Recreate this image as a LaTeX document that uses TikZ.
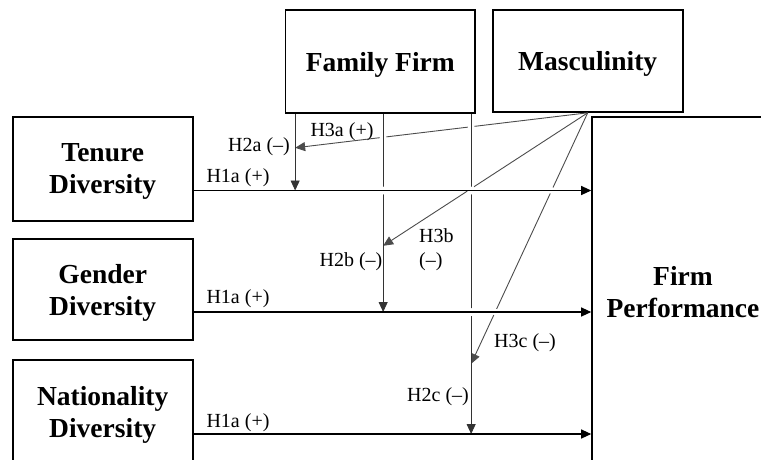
\documentclass[tikz,border=0pt]{standalone}
\usepackage{fontspec}
\setmainfont{Liberation Serif}
\usetikzlibrary{arrows.meta,calc}
\begin{document}
\begin{tikzpicture}[x=1pt,y=-1pt,
  box/.style={draw, line width=1.6pt, align=center, inner sep=0pt, text depth=0pt,
    font=\fontsize{27.5}{32}\selectfont\bfseries},
  lab/.style={font=\fontsize{20}{24}\selectfont, inner sep=0pt},
  tip/.style={-{Triangle[length=10pt,width=9pt]}},
  harr/.style={tip, line width=1.1pt, draw=black},
  varr/.style={tip, line width=0.9pt, draw=black!80, fill=black},
  darr/.style={tip, line width=0.9pt, draw=black!70},
  gap/.style={fill=white}
]
\useasboundingbox (0,0) rectangle (761,459);
\clip (0,0) rectangle (761,459);

% boxes
\node[box, minimum width=180pt, minimum height=104pt] (ten) at (102.7,168.7) {Tenure\\Diversity};
\node[box, minimum width=180pt, minimum height=101pt] (gen) at (102.7,289.7) {Gender\\Diversity};
\node[box, minimum width=180pt, minimum height=104pt] (nat) at (102.7,412) {Nationality\\Diversity};
\node[box, minimum width=189.3pt, minimum height=103pt] (ff) at (380.3,61.5) {Family Firm};
\node[box, minimum width=190pt, minimum height=102pt] (masc) at (587.7,61) {Masculinity};
\node[box, minimum width=182pt, minimum height=350pt] (fp) at (683,292) {Firm\\Performance};

% coordinates
\coordinate (m0) at (masc.south);
\coordinate (t0) at ([yshift=-21.8pt]ten.east);
\coordinate (g0) at ([yshift=-22.3pt]gen.east);
\coordinate (n0) at ([yshift=-22pt]nat.east);
\coordinate (t1) at (t0 -| fp.west);
\coordinate (g1) at (g0 -| fp.west);
\coordinate (n1) at (n0 -| fp.west);
\coordinate (v1s) at ([xshift=10.3pt]ff.south west);
\coordinate (v2s) at ([xshift=98.3pt]ff.south west);
\coordinate (v3s) at ([xshift=186.3pt]ff.south west);
\coordinate (v1e) at (v1s |- t0);
\coordinate (v2e) at (v2s |- g0);
\coordinate (v3e) at (v3s |- n0);
\coordinate (d1) at ([yshift=-34pt]v1s);
\coordinate (d2) at ([yshift=-132pt]v2s);
\coordinate (d3) at ([yshift=-250pt]v3s);

% moderating paths from Masculinity
\draw[darr] (m0) -- (d1);
\draw[darr] (m0) -- (d2);
\draw[darr] (m0) -- (d3);

% gaps where diagonals pass under
\fill[gap] (intersection of m0--d1 and v2s--v2e) circle (3.5pt);
\fill[gap] (intersection of m0--d1 and v3s--v3e) circle (3.5pt);
\fill[gap] (intersection of m0--d2 and v3s--v3e) circle (3.5pt);
\fill[gap] (intersection of m0--d3 and t0--t1) circle (3.5pt);
\fill[gap] (intersection of m0--d3 and g0--g1) circle (3.5pt);

% moderating paths from Family Firm
\draw[varr] (v1s) -- (v1e);
\draw[varr] (v2s) -- (v2e);
\draw[varr] (v3s) -- (v3e);

% gaps where verticals pass under
\fill[gap] (v2s |- t0) circle (4pt);
\fill[gap] (v3s |- t0) circle (4pt);
\fill[gap] (v3s |- g0) circle (4pt);

% main effects
\draw[harr] (t0) -- (t1);
\draw[harr] (g0) -- (g1);
\draw[harr] (n0) -- (n1);

% labels
\node[lab] (l1) at (238,178) {H1a (+)};
\node[lab] (l2) at (238,299) {H1a (+)};
\node[lab] (l3) at (238,423) {H1a (+)};
\node[lab] (l4) at (259,147) {H2a (–)};
\node[lab] (l5) at (342,132) {H3a (+)};
\node[lab] (l6) at (351,262) {H2b (–)};
\node[lab, align=left, anchor=west] (l7) at (419,250) {H3b\\(–)};
\node[lab] (l8) at (525,343) {H3c (–)};
\node[lab] (l9) at (438,397) {H2c (–)};
\end{tikzpicture}
\end{document}
